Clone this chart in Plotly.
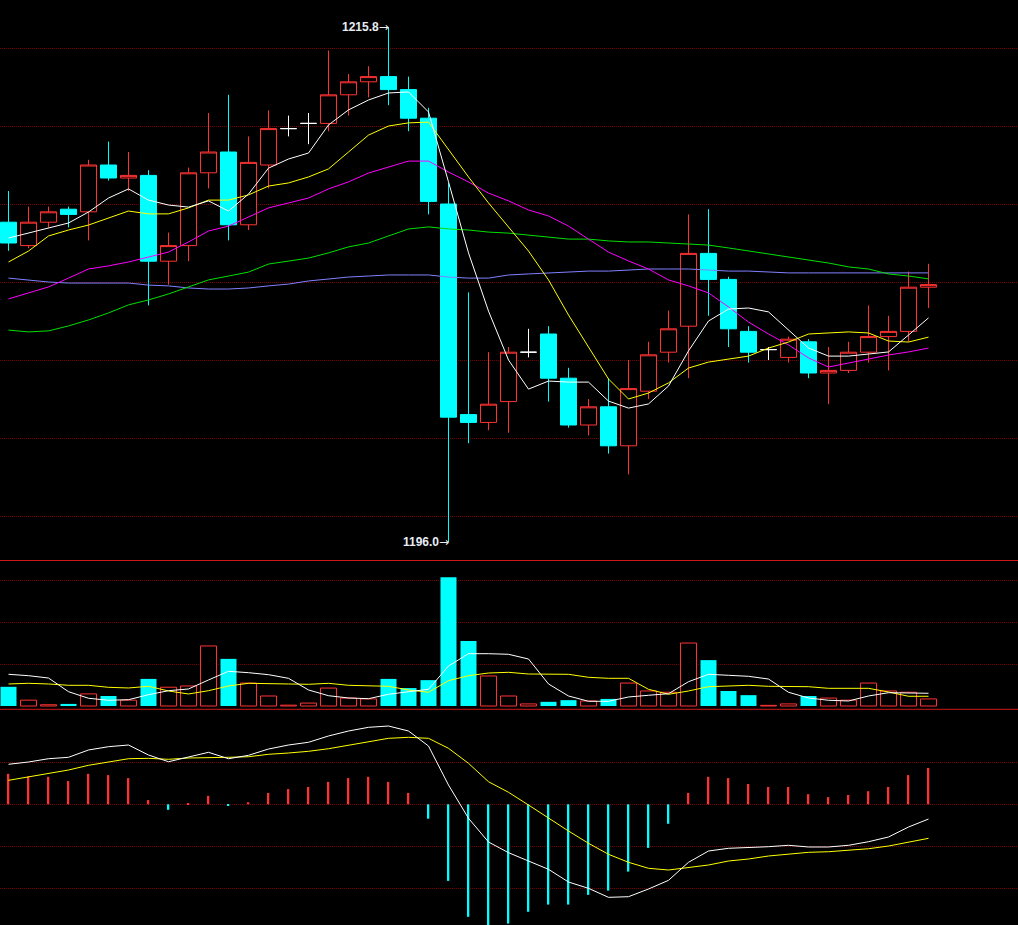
import plotly.graph_objects as go

# ---------------- data ----------------
idx = list(range(47))

open_ = [1208.3, 1207.4, 1208.3, 1208.8, 1208.7, 1210.5, 1210.0, 1210.1, 1206.8, 1207.4,
         1210.2, 1211.0, 1208.2, 1210.5, 1211.9, 1212.1, 1212.1, 1213.2, 1213.7, 1213.9,
         1213.4, 1212.3, 1209.0, 1200.9, 1200.6, 1201.4, 1203.3, 1204.0, 1202.3, 1200.5,
         1201.2, 1199.7, 1201.8, 1203.3, 1204.3, 1207.1, 1206.1, 1204.1, 1203.4, 1203.1,
         1203.7, 1202.5, 1202.6, 1203.3, 1203.9, 1204.1, 1205.8]
high = [1209.5, 1208.9, 1208.9, 1208.9, 1210.7, 1211.4, 1211.0, 1210.3, 1207.9, 1210.4,
        1212.5, 1213.2, 1211.6, 1212.6, 1212.4, 1212.5, 1214.9, 1214.0, 1214.3, 1215.8,
        1213.9, 1212.7, 1209.8, 1205.6, 1203.3, 1203.5, 1204.2, 1204.3, 1202.7, 1201.5,
        1202.3, 1203.0, 1203.7, 1204.9, 1208.6, 1208.8, 1206.2, 1204.3, 1203.5, 1203.9,
        1203.8, 1203.5, 1203.7, 1205.1, 1204.7, 1206.4, 1206.7]
low = [1207.2, 1207.3, 1208.1, 1208.1, 1207.6, 1209.9, 1209.5, 1205.1, 1205.9, 1206.8,
       1209.6, 1207.6, 1208.0, 1209.6, 1211.6, 1211.3, 1211.8, 1212.4, 1213.1, 1212.8,
       1211.8, 1208.6, 1196.0, 1199.8, 1200.3, 1200.2, 1203.1, 1201.4, 1200.4, 1200.1,
       1199.4, 1198.6, 1201.5, 1202.9, 1202.3, 1204.7, 1203.5, 1202.9, 1203.0, 1202.9,
       1202.3, 1201.3, 1202.5, 1202.9, 1202.6, 1203.7, 1205.0]
close = [1207.5, 1208.3, 1208.7, 1208.6, 1210.5, 1210.0, 1210.1, 1206.8, 1207.4, 1210.2,
         1211.0, 1208.2, 1210.6, 1211.9, 1211.9, 1212.1, 1213.2, 1213.7, 1213.9, 1213.4,
         1212.3, 1209.1, 1200.8, 1200.6, 1201.3, 1203.3, 1203.3, 1202.3, 1200.5, 1201.2,
         1199.7, 1201.9, 1203.2, 1204.2, 1207.1, 1206.1, 1204.2, 1203.3, 1203.4, 1203.8,
         1202.5, 1202.6, 1203.3, 1203.9, 1204.1, 1205.8, 1205.9]

ma5 = [1207.69, 1207.88, 1208.08, 1208.27, 1208.69, 1209.23, 1209.58, 1209.15, 1208.96, 1208.88,
       1209.12, 1208.73, 1209.38, 1210.38, 1210.73, 1210.96, 1212.04, 1212.62, 1213.00, 1213.27,
       1213.31, 1212.54, 1209.85, 1207.12, 1204.88, 1203.00, 1201.88, 1202.19, 1202.15, 1202.15,
       1201.42, 1201.15, 1201.31, 1202.00, 1203.35, 1204.50, 1204.96, 1205.00, 1204.85, 1204.15,
       1203.46, 1203.15, 1203.15, 1203.23, 1203.31, 1203.96, 1204.62]
ma10 = [1206.77, 1207.19, 1207.77, 1208.00, 1208.19, 1208.46, 1208.73, 1208.62, 1208.62, 1208.85,
        1209.15, 1209.15, 1209.35, 1209.69, 1209.81, 1210.04, 1210.35, 1211.00, 1211.65, 1212.00,
        1212.12, 1212.15, 1211.08, 1210.04, 1209.04, 1208.12, 1207.19, 1206.08, 1204.73, 1203.50,
        1202.27, 1201.50, 1201.73, 1202.12, 1202.69, 1202.92, 1203.04, 1203.15, 1203.46, 1203.69,
        1204.00, 1204.04, 1204.08, 1204.04, 1203.73, 1203.69, 1203.88]
ma20 = [1205.35, 1205.58, 1205.81, 1206.15, 1206.50, 1206.62, 1206.77, 1206.96, 1207.15, 1207.54,
        1207.96, 1208.15, 1208.50, 1208.85, 1209.04, 1209.23, 1209.58, 1209.85, 1210.19, 1210.42,
        1210.65, 1210.65, 1210.23, 1209.85, 1209.42, 1209.12, 1208.77, 1208.54, 1208.15, 1207.65,
        1207.15, 1206.81, 1206.50, 1206.08, 1205.85, 1205.58, 1205.04, 1204.46, 1204.00, 1203.58,
        1203.08, 1202.73, 1202.88, 1203.04, 1203.19, 1203.31, 1203.46]
ma60 = [1204.15, 1204.08, 1204.12, 1204.31, 1204.54, 1204.81, 1205.12, 1205.31, 1205.54, 1205.81,
        1206.08, 1206.23, 1206.38, 1206.69, 1206.81, 1206.92, 1207.12, 1207.35, 1207.50, 1207.77,
        1208.04, 1208.12, 1208.04, 1208.00, 1207.92, 1207.88, 1207.81, 1207.73, 1207.65, 1207.65,
        1207.58, 1207.54, 1207.54, 1207.50, 1207.46, 1207.42, 1207.31, 1207.19, 1207.08, 1206.96,
        1206.85, 1206.73, 1206.58, 1206.50, 1206.31, 1206.23, 1206.12]
ma120 = [1206.15, 1206.08, 1206.00, 1205.96, 1205.96, 1205.96, 1205.96, 1205.88, 1205.85, 1205.77,
         1205.73, 1205.73, 1205.77, 1205.85, 1205.92, 1206.04, 1206.12, 1206.19, 1206.23, 1206.27,
         1206.27, 1206.27, 1206.19, 1206.15, 1206.15, 1206.27, 1206.31, 1206.35, 1206.38, 1206.42,
         1206.42, 1206.46, 1206.50, 1206.50, 1206.50, 1206.46, 1206.42, 1206.42, 1206.38, 1206.35,
         1206.35, 1206.35, 1206.35, 1206.35, 1206.35, 1206.35, 1206.35]

volume = [460, 140, 30, 50, 290, 240, 140, 650, 450, 480,
          1440, 1130, 550, 240, 20, 70, 430, 190, 170, 650,
          430, 620, 3090, 1560, 720, 240, 50, 100, 140, 120,
          170, 550, 360, 330, 1510, 1100, 360, 260, 15, 50,
          240, 190, 140, 550, 360, 330, 170]
vol_ma5 = [760, 727, 671, 343, 185, 137, 151, 271, 367, 408,
           624, 832, 799, 751, 664, 384, 247, 192, 175, 281,
           343, 400, 959, 1254, 1254, 1240, 1127, 528, 240, 113,
           113, 216, 257, 295, 583, 760, 736, 712, 647, 329,
           192, 137, 120, 240, 319, 305, 305]
vol_ma10 = [528, 544, 528, 496, 496, 448, 432, 472, 360, 288,
            367, 480, 544, 544, 528, 520, 544, 496, 480, 472,
            384, 329, 607, 727, 791, 808, 767, 760, 760, 688,
            664, 664, 400, 281, 360, 463, 480, 496, 472, 463,
            463, 424, 424, 424, 336, 233, 233]

macd_hist = [0.72, 0.66, 0.65, 0.55, 0.72, 0.69, 0.62, 0.10, -0.13, 0.02,
             0.20, -0.04, 0.05, 0.27, 0.36, 0.41, 0.53, 0.62, 0.65, 0.53,
             0.27, -0.34, -1.81, -2.66, -2.86, -2.82, -2.54, -2.37, -2.37, -2.14,
             -2.04, -1.59, -1.03, -0.46, 0.27, 0.65, 0.62, 0.48, 0.41, 0.41,
             0.24, 0.17, 0.22, 0.31, 0.41, 0.69, 0.86]
dif = [0.946, 1.000, 1.078, 1.111, 1.284, 1.362, 1.402, 1.165, 1.007, 1.111,
       1.229, 1.078, 1.158, 1.307, 1.402, 1.466, 1.615, 1.733, 1.820, 1.851,
       1.733, 1.378, 0.456, -0.331, -0.891, -1.144, -1.333, -1.537, -1.837, -1.986,
       -2.199, -2.184, -2.002, -1.797, -1.371, -1.104, -1.040, -1.026, -1.002, -0.969,
       -1.009, -1.009, -0.969, -0.884, -0.773, -0.537, -0.348]
dea = [0.567, 0.652, 0.733, 0.811, 0.922, 1.000, 1.078, 1.087, 1.064, 1.095,
       1.111, 1.111, 1.125, 1.182, 1.213, 1.253, 1.314, 1.395, 1.489, 1.560,
       1.584, 1.560, 1.324, 0.969, 0.534, 0.284, -0.017, -0.331, -0.631, -0.922,
       -1.182, -1.371, -1.513, -1.553, -1.499, -1.435, -1.340, -1.293, -1.222, -1.175,
       -1.135, -1.121, -1.080, -1.050, -0.986, -0.891, -0.804]

price_grid = [1197, 1200, 1203, 1206, 1209, 1212, 1215]
vol_grid = [1000, 2000, 3000]
macd_grid = [-2, -1, 0, 1]

hi_label = "1215.8"
lo_label = "1196.0"

# ---------------- styling ----------------
RED = "#FF3232"
CYAN = "#00FFFF"
GRID = "#7A0000"
SEP = "#CC1A1A"
W, H = 1018, 925

fig = go.Figure()

# candles split into normal and doji (open == close -> white cross)
norm = [i for i in idx if open_[i] != close[i]]
doji = [i for i in idx if open_[i] == close[i]]

fig.add_trace(go.Candlestick(
    x=norm, open=[open_[i] for i in norm], high=[high[i] for i in norm],
    low=[low[i] for i in norm], close=[close[i] for i in norm],
    increasing=dict(line=dict(color=RED, width=1), fillcolor="#000000"),
    decreasing=dict(line=dict(color=CYAN, width=1), fillcolor=CYAN),
    whiskerwidth=0, xaxis="x", yaxis="y", showlegend=False, hoverinfo="skip"))
fig.add_trace(go.Candlestick(
    x=doji, open=[open_[i] for i in doji], high=[high[i] for i in doji],
    low=[low[i] for i in doji], close=[close[i] for i in doji],
    increasing=dict(line=dict(color="#FFFFFF", width=1), fillcolor="#FFFFFF"),
    decreasing=dict(line=dict(color="#FFFFFF", width=1), fillcolor="#FFFFFF"),
    whiskerwidth=0, xaxis="x", yaxis="y", showlegend=False, hoverinfo="skip"))

for series, col in [(ma120, "#8080FF"), (ma60, "#00E000"), (ma20, "#FF00FF"),
                    (ma10, "#FFFF00"), (ma5, "#FFFFFF")]:
    fig.add_trace(go.Scatter(x=idx, y=series, mode="lines",
                             line=dict(color=col, width=1),
                             xaxis="x", yaxis="y", showlegend=False, hoverinfo="skip"))

# volume
up = [i for i in idx if close[i] >= open_[i]]
dn = [i for i in idx if close[i] < open_[i]]
fig.add_trace(go.Bar(x=up, y=[volume[i] for i in up], width=0.8,
                     marker=dict(color="#000000", line=dict(color=RED, width=1)),
                     xaxis="x2", yaxis="y2", showlegend=False, hoverinfo="skip"))
fig.add_trace(go.Bar(x=dn, y=[volume[i] for i in dn], width=0.8,
                     marker=dict(color=CYAN, line=dict(color=CYAN, width=0)),
                     xaxis="x2", yaxis="y2", showlegend=False, hoverinfo="skip"))
for series, col in [(vol_ma10, "#FFFF00"), (vol_ma5, "#FFFFFF")]:
    fig.add_trace(go.Scatter(x=idx, y=series, mode="lines",
                             line=dict(color=col, width=1),
                             xaxis="x2", yaxis="y2", showlegend=False, hoverinfo="skip"))

# MACD
pos = [i for i in idx if macd_hist[i] >= 0]
neg = [i for i in idx if macd_hist[i] < 0]
fig.add_trace(go.Bar(x=pos, y=[macd_hist[i] for i in pos], width=0.08,
                     marker=dict(color=RED, line=dict(width=0)),
                     xaxis="x3", yaxis="y3", showlegend=False, hoverinfo="skip"))
fig.add_trace(go.Bar(x=neg, y=[macd_hist[i] for i in neg], width=0.08,
                     marker=dict(color=CYAN, line=dict(width=0)),
                     xaxis="x3", yaxis="y3", showlegend=False, hoverinfo="skip"))
for series, col in [(dea, "#FFFF00"), (dif, "#FFFFFF")]:
    fig.add_trace(go.Scatter(x=idx, y=series, mode="lines",
                             line=dict(color=col, width=1),
                             xaxis="x3", yaxis="y3", showlegend=False, hoverinfo="skip"))

# high / low labels
hi_i = high.index(max(high))
lo_i = low.index(min(low))
lab_font = dict(family="Liberation Sans, Arial, sans-serif", size=12, color="#E8ECF4")
arrow = '<span style="font-family:DejaVu Sans;font-weight:normal">→</span>'
fig.add_annotation(x=hi_i, y=high[hi_i], xref="x", yref="y",
                   text="<b>" + hi_label + "</b>" + arrow,
                   showarrow=False, xanchor="right", yanchor="middle", font=lab_font,
                   borderpad=0, borderwidth=0)
fig.add_annotation(x=lo_i, y=low[lo_i], xref="x", yref="y",
                   text="<b>" + lo_label + "</b>" + arrow,
                   showarrow=False, xanchor="right", yanchor="middle", font=lab_font,
                   borderpad=0, borderwidth=0)

# panel layout (pixel rows converted to paper fractions)
main_dom = [1 - 560 / H, 1]
vol_dom = [1 - 709 / H, 1 - 561 / H]
macd_dom = [0, 1 - 709 / H]

xr = [-0.425, 50.475]
xcommon = dict(range=xr, showgrid=False, zeroline=False, showticklabels=False,
               ticks="", showline=False, fixedrange=True)
ycommon = dict(showgrid=True, gridcolor=GRID, gridwidth=1, griddash="1px,1px",
               zeroline=False, showticklabels=False, ticks="", showline=False)

fig.update_layout(
    width=W, height=H,
    margin=dict(l=0, r=0, t=0, b=0),
    paper_bgcolor="#000000", plot_bgcolor="#000000",
    showlegend=False, barmode="overlay", boxgap=0.2, boxgroupgap=0,
    xaxis=dict(**xcommon, anchor="y", domain=[0, 1], rangeslider=dict(visible=False)),
    xaxis2=dict(**xcommon, anchor="y2", domain=[0, 1]),
    xaxis3=dict(**xcommon, anchor="y3", domain=[0, 1]),
    yaxis=dict(**ycommon, domain=main_dom, range=[1195.308, 1216.846],
               tickvals=price_grid, anchor="x"),
    yaxis2=dict(**ycommon, domain=vol_dom, range=[-72, 3477],
                tickvals=vol_grid, anchor="x2"),
    yaxis3=dict(**ycommon, domain=macd_dom, range=[-2.853, 2.253],
                tickvals=macd_grid, anchor="x3"),
    shapes=[
        dict(type="line", xref="paper", yref="paper", x0=0, x1=1,
             y0=1 - 560.5 / H, y1=1 - 560.5 / H, line=dict(color=SEP, width=1)),
        dict(type="line", xref="paper", yref="paper", x0=0, x1=1,
             y0=1 - 709.3 / H, y1=1 - 709.3 / H, line=dict(color=SEP, width=1)),
    ],
)

fig.write_html(
    "out.html",
    config={"displayModeBar": False},
    post_script="document.body.style.margin='0';document.body.style.background='#000';",
)
